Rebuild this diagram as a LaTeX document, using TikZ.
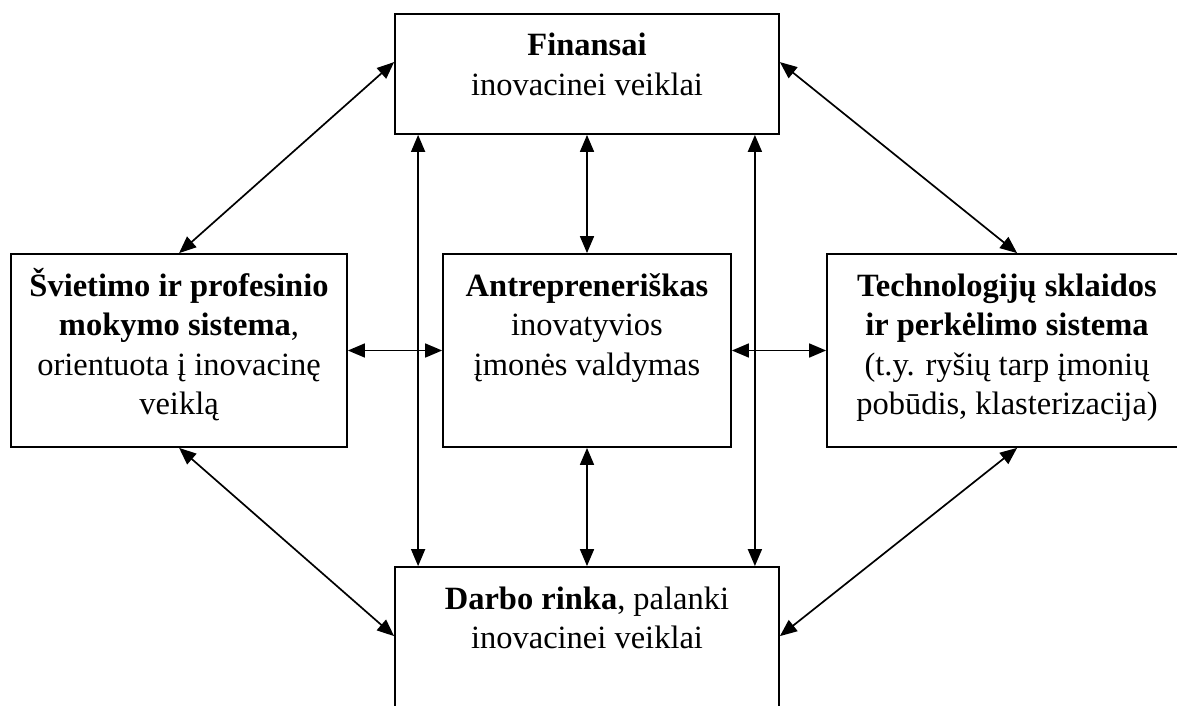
\documentclass[tikz,border=0pt]{standalone}
\usepackage{fontspec}
\setmainfont{Liberation Serif}
\usetikzlibrary{arrows.meta}
\newcommand\bxtext[3]{\parbox[c][#2][t]{#1}{\centering\rule{0pt}{42pt}\ignorespaces #3\par}}
\begin{document}
\begin{tikzpicture}[x=1pt,y=-1pt,
  boxnode/.style={draw,line width=1.8pt,rectangle,inner sep=0pt,
    font=\fontsize{32.5}{39.5}\selectfont},
  link/.style={line width=1.7pt,{Triangle[length=17pt,width=14pt]}-{Triangle[length=17pt,width=14pt]}}]
\useasboundingbox (0,0) rectangle (1177,706);
\clip (0,0) rectangle (1177,706);
\node[boxnode] (fin) at (587,74) {\bxtext{384pt}{120pt}{\textbf{Finansai}\\ inovacinei veiklai}};
\node[boxnode] (svi) at (179,350.5) {\bxtext{336pt}{193pt}{\textbf{Švietimo ir profesinio}\\ \textbf{mokymo sistema},\\ orientuota į inovacinę\\ veiklą}};
\node[boxnode] (ant) at (587,350.5) {\bxtext{288pt}{193pt}{\textbf{Antrepreneriškas}\\ inovatyvios\\ įmonės valdymas}};
\node[boxnode] (tech) at (1007,350.5) {\bxtext{360pt}{193pt}{\textbf{Technologijų sklaidos}\\ \textbf{ir perkėlimo sistema}\\ (t.y. ryšių tarp įmonių\\ pobūdis, klasterizacija)}};
\node[boxnode] (darbo) at (587,667) {\bxtext{384pt}{200pt}{\textbf{Darbo rinka}, palanki\\ inovacinei veiklai}};
% vertical links
\draw[link] ([xshift=24pt]fin.south west) -- ([xshift=24pt]darbo.north west);
\draw[link] ([xshift=-25pt]fin.south east) -- ([xshift=-25pt]darbo.north east);
\draw[link] (fin.south) -- (ant.north);
\draw[link] (ant.south) -- (darbo.north);
% horizontal links
\draw[link] (svi.east) -- (ant.west);
\draw[link] (ant.east) -- (tech.west);
% diagonal links
\draw[link] ([xshift=169pt]svi.north west) -- ([yshift=-49pt]fin.north west);
\draw[link] ([yshift=-49pt]fin.north east) -- ([xshift=191pt]tech.north west);
\draw[link] ([xshift=169pt]svi.south west) -- ([yshift=-70pt]darbo.north west);
\draw[link] ([xshift=191pt]tech.south west) -- ([yshift=-70pt]darbo.north east);
\end{tikzpicture}
\end{document}
